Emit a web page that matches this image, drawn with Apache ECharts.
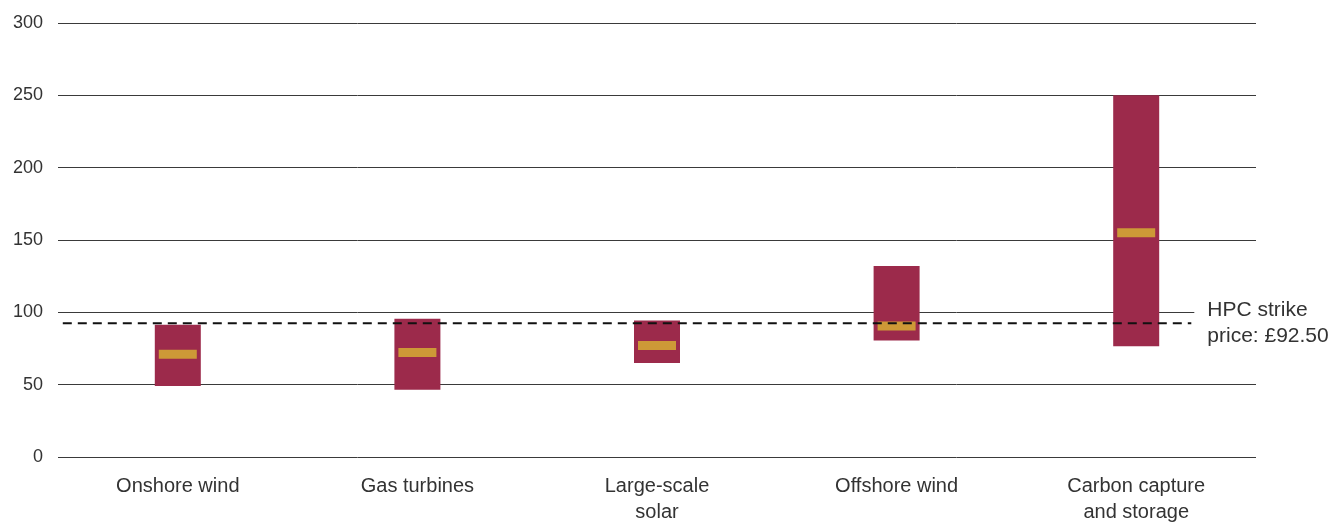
<!DOCTYPE html>
<html><head><meta charset="utf-8">
<script src="https://cdn.jsdelivr.net/npm/echarts@6/dist/echarts.min.js"></script>
<style>html,body{margin:0;padding:0;background:#fff;overflow:hidden}#c{width:1334px;height:525px}</style>
</head><body><div id="c"></div>
<script>
var categories = ['Onshore wind', 'Gas turbines', 'Large-scale\nsolar', 'Offshore wind', 'Carbon capture\nand storage'];
var lowValues = [49, 46.5, 65, 80.5, 76.5];
var highValues = [91.5, 95.5, 94.3, 132, 250];
var medianValues = [71, 72.2, 77, 90.5, 155];
var strikePrice = 92.5;
var strikeLabel = 'HPC strike\nprice: £92.50';
var strikeExtent = [0.02, 4.73];
var yTicks = [0, 50, 100, 150, 200, 250, 300];

var rangeValues = highValues.map(function (h, i) { return +(h - lowValues[i]).toFixed(2); });
var FONT = '"Liberation Sans", Arial, sans-serif';
var chart = echarts.init(document.getElementById('c'), null, { renderer: 'canvas' });
chart.setOption({
  animation: false,
  grid: { left: 58, right: 78, top: 23, bottom: 63, containLabel: false },
  xAxis: [{
    type: 'category', data: categories,
    axisLine: { show: false }, axisTick: { show: false },
    axisLabel: { color: '#333', fontSize: 20, fontFamily: FONT, margin: 16, lineHeight: 26 }
  }, {
    type: 'value', min: 0, max: categories.length, show: false
  }],
  yAxis: {
    type: 'value', min: yTicks[0], max: yTicks[yTicks.length - 1], interval: yTicks[1] - yTicks[0],
    axisLine: { show: false }, axisTick: { show: false },
    axisLabel: { color: '#333', fontSize: 18, fontFamily: FONT, margin: 15 },
    splitLine: { show: true, lineStyle: { color: '#3a3a3a', width: 1 } }
  },
  series: [{
    type: 'bar', stack: 'r', data: lowValues, barWidth: 46,
    itemStyle: { color: 'transparent' }, silent: true
  }, {
    type: 'bar', stack: 'r', data: rangeValues, barWidth: 46,
    itemStyle: { color: '#9C2A4B' }
  }, {
    type: 'scatter', data: medianValues, symbol: 'rect', symbolSize: [38, 9],
    itemStyle: { color: '#DAB532' }, z: 5
  }, {
    type: 'line', xAxisIndex: 1, z: 6,
    data: [[strikeExtent[0], strikePrice], [strikeExtent[1], strikePrice]],
    symbol: 'none',
    lineStyle: { color: '#111', width: 2, type: [9, 6] },
    endLabel: {
      show: true, formatter: strikeLabel, color: '#333', fontSize: 21, fontFamily: FONT,
      lineHeight: 26, distance: 3, backgroundColor: '#fff', padding: [0, 10, 0, 13], align: 'left'
    }
  }]
});
</script></body></html>
